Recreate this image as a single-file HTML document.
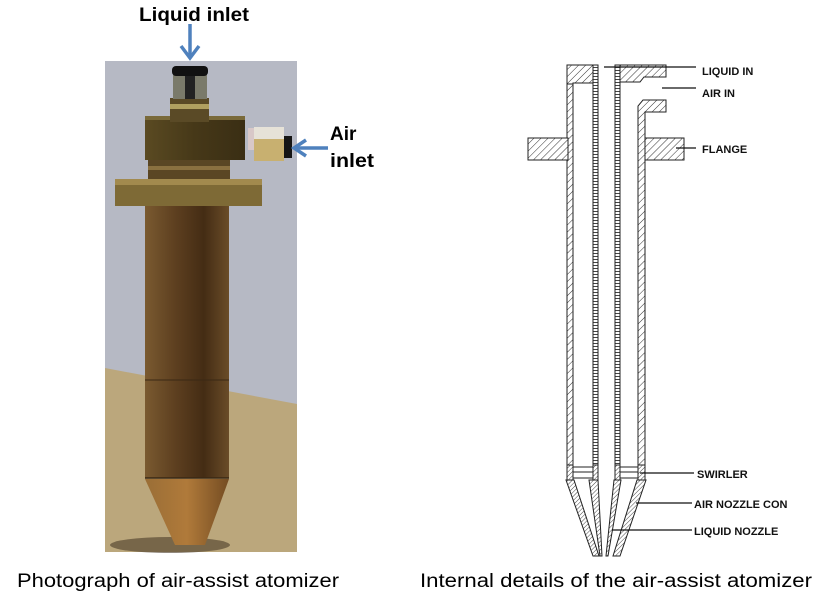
<!DOCTYPE html>
<html><head><meta charset="utf-8"><style>
html,body{margin:0;padding:0;background:#fff;}
svg{display:block;}
text{font-family:"Liberation Sans",sans-serif;}
</style></head><body>
<svg width="838" height="600" viewBox="0 0 838 600" xmlns="http://www.w3.org/2000/svg">
<defs>
<pattern id="h" width="5" height="5" patternUnits="userSpaceOnUse" patternTransform="rotate(45)">
<rect width="5" height="5" fill="#fff"/><line x1="0" y1="0" x2="0" y2="5" stroke="#333" stroke-width="1"/>
</pattern>
<pattern id="h2" width="3" height="3" patternUnits="userSpaceOnUse" patternTransform="rotate(45)">
<rect width="3" height="3" fill="#fff"/><line x1="0" y1="0" x2="0" y2="3" stroke="#333" stroke-width="0.9"/>
</pattern>
<pattern id="d" width="5" height="3" patternUnits="userSpaceOnUse">
<rect width="5" height="3" fill="#fff"/><line x1="0" y1="1.5" x2="5" y2="1.5" stroke="#444" stroke-width="1"/>
</pattern>
<linearGradient id="tube" x1="0" x2="1">
<stop offset="0" stop-color="#7a5a30"/><stop offset="0.35" stop-color="#5e4020"/><stop offset="0.7" stop-color="#442c14"/><stop offset="1" stop-color="#6a4c28"/>
</linearGradient>
<linearGradient id="cone" x1="0" x2="1">
<stop offset="0" stop-color="#9a6e36"/><stop offset="0.5" stop-color="#b07a3a"/><stop offset="1" stop-color="#744c22"/>
</linearGradient>
<linearGradient id="body" x1="0" x2="1">
<stop offset="0" stop-color="#5a4a22"/><stop offset="0.5" stop-color="#463818"/><stop offset="1" stop-color="#3a2e14"/>
</linearGradient>
</defs>

<rect x="105" y="61" width="192" height="491" fill="#b6b9c4"/>
<polygon points="105,368 297,404 297,552 105,552" fill="#bba77c"/>
<ellipse cx="170" cy="545" rx="60" ry="8" fill="#4a3a28" opacity="0.6"/>
<rect x="145" y="205" width="84" height="273" fill="url(#tube)"/>
<line x1="145" y1="380" x2="229" y2="380" stroke="#3a2814" stroke-width="1"/>
<line x1="145" y1="478" x2="229" y2="478" stroke="#3a2814" stroke-width="1.5"/>
<polygon points="145,479 229,479 205,545 175,545" fill="url(#cone)"/>
<rect x="115" y="179" width="147" height="27" fill="#7e6a36"/>
<rect x="115" y="179" width="147" height="6" fill="#a28a4e"/>
<rect x="148" y="158" width="82" height="21" fill="#5a4624"/>
<rect x="148" y="166" width="82" height="4" fill="#8a7040"/>
<rect x="145" y="116" width="100" height="44" fill="url(#body)"/>
<rect x="145" y="116" width="100" height="4" fill="#7a6a3a"/>
<rect x="248" y="128" width="6" height="22" fill="#d8c8c8"/>
<rect x="254" y="127" width="30" height="34" fill="#c8b070"/>
<rect x="254" y="127" width="30" height="12" fill="#e6e2d8"/>
<rect x="284" y="136" width="8" height="22" fill="#151515"/>
<rect x="170" y="98" width="39" height="24" fill="#5a4a26"/>
<rect x="170" y="104" width="39" height="5" fill="#b0a060"/>
<rect x="173" y="75" width="34" height="24" fill="#7a7a6a"/>
<rect x="185" y="75" width="10" height="24" fill="#222"/>
<rect x="172" y="66" width="36" height="10" rx="4" fill="#111"/>

<line x1="190" y1="24" x2="190" y2="56" stroke="#4f81bd" stroke-width="3.5"/>
<polyline points="181,46 190,58 199,46" fill="none" stroke="#4f81bd" stroke-width="3.5"/>
<line x1="328" y1="148" x2="296" y2="148" stroke="#4f81bd" stroke-width="3.5"/>
<polyline points="306,140 294,148 306,156" fill="none" stroke="#4f81bd" stroke-width="3.5"/>
<text x="139" y="21" font-size="19" font-weight="bold" textLength="110" lengthAdjust="spacingAndGlyphs">Liquid inlet</text>
<text x="330" y="140" font-size="19" font-weight="bold">Air</text>
<text x="330" y="167" font-size="19" font-weight="bold" textLength="44" lengthAdjust="spacingAndGlyphs">inlet</text>

<g stroke="#222" stroke-width="1">
<rect x="567" y="83" width="6" height="385" fill="url(#h)"/>
<path d="M567,65 H593 V83 H573 V84 H567 Z" fill="url(#h)"/>
<rect x="528" y="138" width="40" height="22" fill="url(#h)"/>
<rect x="593" y="65" width="5" height="403" fill="url(#d)"/>
<rect x="615" y="65" width="5" height="403" fill="url(#d)"/>
<path d="M620,65 H666 V77 H644 L640,82 H620 Z" fill="url(#h)"/>
<path d="M643,100 H666 V112 H645 V468 H638 V106 Z" fill="url(#h)"/>
<rect x="645" y="138" width="39" height="22" fill="url(#h)"/>
<rect x="567" y="465" width="6" height="15" fill="url(#h2)"/>
<rect x="573" y="467" width="20" height="11" fill="#fff"/>
<line x1="573" y1="472" x2="593" y2="472"/>
<rect x="620" y="467" width="18" height="11" fill="#fff"/>
<line x1="620" y1="472" x2="638" y2="472"/>
<rect x="638" y="465" width="7" height="15" fill="url(#h2)"/>
<rect x="593" y="465" width="5" height="15" fill="url(#h2)"/>
<rect x="615" y="465" width="5" height="15" fill="url(#h2)"/>
<polygon points="566,480 574,480 599,556 593,556" fill="url(#h2)"/>
<polygon points="589,480 598,480 602,556 600,556" fill="url(#h2)"/>
<polygon points="614,480 621,480 608,556 606,556" fill="url(#h2)"/>
<polygon points="637,480 646,480 620,556 613,556" fill="url(#h2)"/>
</g>
<g stroke="#111" stroke-width="1.3">
<line x1="604" y1="67" x2="696" y2="67"/>
<line x1="662" y1="88" x2="696" y2="88"/>
<line x1="676" y1="148" x2="696" y2="148"/>
<line x1="640" y1="473" x2="694" y2="473"/>
<line x1="636" y1="503" x2="692" y2="503"/>
<line x1="612" y1="530" x2="692" y2="530"/>
</g>
<g font-size="11" font-weight="bold" fill="#111">
<text x="702" y="75">LIQUID IN</text>
<text x="702" y="97">AIR IN</text>
<text x="702" y="153">FLANGE</text>
<text x="697" y="478">SWIRLER</text>
<text x="694" y="508">AIR NOZZLE CON</text>
<text x="694" y="535">LIQUID NOZZLE</text>
</g>
<rect x="791" y="495" width="47" height="20" fill="#fff"/>

<text x="17" y="587" font-size="19" textLength="322" lengthAdjust="spacingAndGlyphs">Photograph of air-assist atomizer</text>
<text x="420" y="587" font-size="19" textLength="392" lengthAdjust="spacingAndGlyphs">Internal details of the air-assist atomizer</text>
</svg>
</body></html>
